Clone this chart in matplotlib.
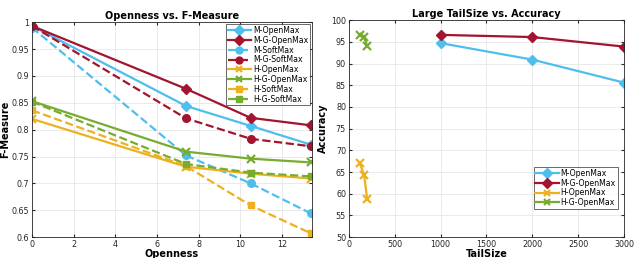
import matplotlib.pyplot as plt
import numpy as np

# left panel: openness vs f-measure
openness = [0.0, 7.4, 10.5, 13.4]
m_openmax = [0.993, 0.844, 0.807, 0.772]
mg_openmax = [0.993, 0.876, 0.822, 0.808]
m_softmax = [0.99, 0.752, 0.700, 0.644]
mg_softmax = [0.993, 0.821, 0.783, 0.769]
h_openmax = [0.820, 0.731, 0.718, 0.709]
hg_openmax = [0.853, 0.759, 0.746, 0.739]
h_softmax = [0.836, 0.732, 0.659, 0.607]
hg_softmax = [0.852, 0.736, 0.720, 0.713]

# right panel: tailsize vs accuracy
m_tail = [1000, 2000, 3000]
m_acc = [94.7, 90.9, 85.6]
mg_acc = [96.6, 96.1, 93.9]
h_tail = [120, 168, 200]
h_acc = [67.0, 64.2, 58.8]
hg_acc = [96.5, 96.1, 94.0]

BLUE = '#4DBEEE'
RED = '#A2142F'
ORANGE = '#EDB120'
GREEN = '#77AC30'

plt.rcParams['font.family'] = 'DejaVu Sans'
fig = plt.figure(figsize=(6.4, 2.58), dpi=100)
ax1 = fig.add_axes([0.05, 0.081, 0.4375, 0.833])
ax2 = fig.add_axes([0.545, 0.081, 0.43, 0.841])

lw = 1.6
ms = 5.5
ax1.plot(openness, m_openmax, '-', color=BLUE, marker='D', lw=lw, ms=ms, label='M-OpenMax')
ax1.plot(openness, mg_openmax, '-', color=RED, marker='D', lw=lw, ms=ms, label='M-G-OpenMax')
ax1.plot(openness, m_softmax, '--', color=BLUE, marker='o', lw=lw, ms=ms, label='M-SoftMax')
ax1.plot(openness, mg_softmax, '--', color=RED, marker='o', lw=lw, ms=ms, label='M-G-SoftMax')
ax1.plot(openness, h_openmax, '-', color=ORANGE, marker='x', mew=1.6, lw=lw, ms=ms, label='H-OpenMax')
ax1.plot(openness, hg_openmax, '-', color=GREEN, marker='x', mew=1.6, lw=lw, ms=ms, label='H-G-OpenMax')
ax1.plot(openness, h_softmax, '--', color=ORANGE, marker='s', lw=lw, ms=ms - 0.5, label='H-SoftMax')
ax1.plot(openness, hg_softmax, '--', color=GREEN, marker='s', lw=lw, ms=ms - 0.5, label='H-G-SoftMax')
ax1.set_xlim(0, 13.45)
ax1.set_ylim(0.6, 1.0)
ax1.set_xticks(np.arange(0, 13, 2))
ax1.set_yticks(np.arange(0.6, 1.001, 0.05))
ax1.set_yticklabels(['0.6', '0.65', '0.7', '0.75', '0.8', '0.85', '0.9', '0.95', '1'])
ax1.set_title('Openness vs. F-Measure', fontsize=7, fontweight='bold', pad=2)
ax1.set_xlabel('Openness', fontsize=7, fontweight='bold', labelpad=0)
ax1.set_ylabel('F-Measure', fontsize=7, fontweight='bold', labelpad=1)

ax2.plot(m_tail, m_acc, '-', color=BLUE, marker='D', lw=lw, ms=ms, label='M-OpenMax')
ax2.plot(m_tail, mg_acc, '-', color=RED, marker='D', lw=lw, ms=ms, label='M-G-OpenMax')
ax2.plot(h_tail, h_acc, '-', color=ORANGE, marker='x', mew=1.6, lw=lw, ms=ms, label='H-OpenMax')
ax2.plot(h_tail, hg_acc, '-', color=GREEN, marker='x', mew=1.6, lw=lw, ms=ms, label='H-G-OpenMax')
ax2.set_xlim(0, 3000)
ax2.set_ylim(50, 100)
ax2.set_xticks(np.arange(0, 3001, 500))
ax2.set_yticks(np.arange(50, 101, 5))
ax2.set_title('Large TailSize vs. Accuracy', fontsize=7, fontweight='bold', pad=2)
ax2.set_xlabel('TailSize', fontsize=7, fontweight='bold', labelpad=0)
ax2.set_ylabel('Accuracy', fontsize=7, fontweight='bold', labelpad=2)

for ax in (ax1, ax2):
    ax.grid(True, color='#e6e6e6', lw=0.6)
    ax.set_axisbelow(True)
    ax.tick_params(direction='in', labelsize=5.8, colors='#262626', length=2, pad=2,
                   top=True, right=True)
    for s in ax.spines.values():
        s.set_color('#262626')
        s.set_linewidth(0.6)

leg_kw = dict(fontsize=5.6, fancybox=False, edgecolor='#262626', handlelength=3.0,
              labelspacing=0.1, borderpad=0.25, handletextpad=0.25, borderaxespad=0.25,
              markerscale=0.9)
l1 = ax1.legend(loc='upper right', **leg_kw)
l2 = ax2.legend(loc='lower right', bbox_to_anchor=(0.985, 0.12), **leg_kw)
for l in (l1, l2):
    l.get_frame().set_linewidth(0.6)

fig.savefig('out.png', dpi=100)
